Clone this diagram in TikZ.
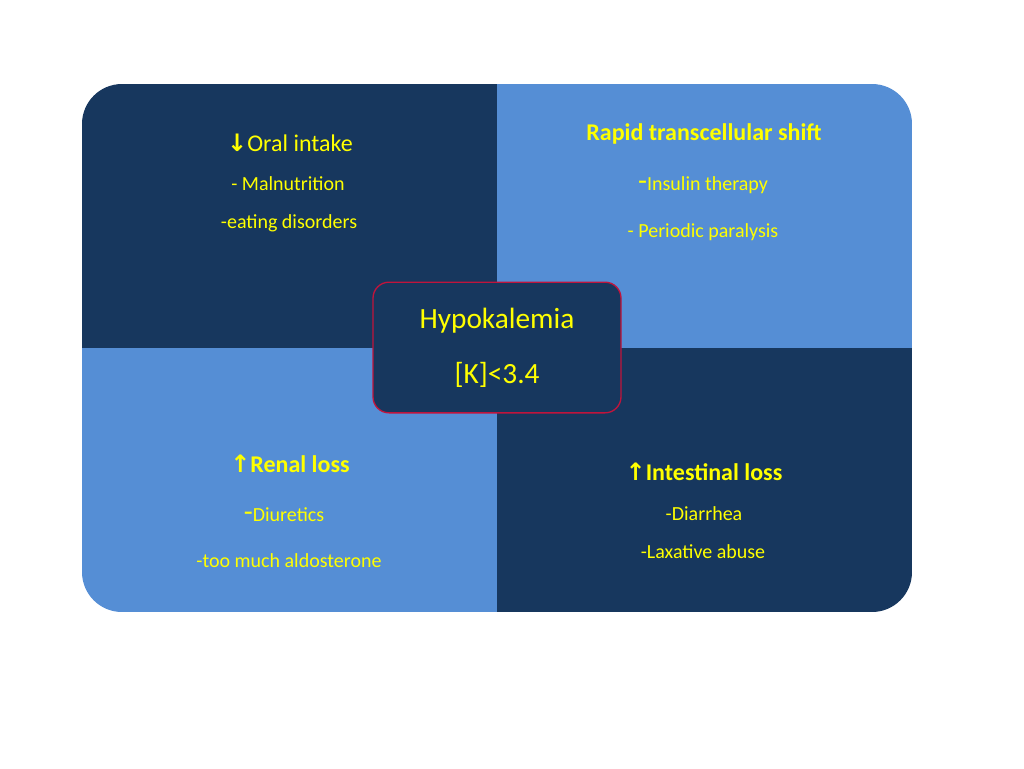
\documentclass[tikz,border=0pt]{standalone}
\usepackage{fontspec}
\setmainfont{Carlito}
\newfontfamily\symfont{DejaVu Sans}
\definecolor{darkq}{HTML}{17375E}
\definecolor{lightq}{HTML}{558ED5}
\definecolor{txtyel}{HTML}{FFFF00}
\definecolor{redline}{HTML}{C0143C}
\tikzset{
  head/.style={text=txtyel, font=\fontsize{18}{20}\selectfont, inner sep=0.75pt},
  headb/.style={head, font=\fontsize{18}{20}\selectfont\bfseries},
  item/.style={text=txtyel, font=\fontsize{15}{17}\selectfont, inner sep=0.75pt},
}
\newcommand{\dnarr}{{\symfont\bfseries ↓}}
\newcommand{\uparr}{{\symfont\bfseries ↑}}
\begin{document}
\begin{tikzpicture}[x=0.75pt,y=0.75pt,yscale=-1,xscale=1]
\useasboundingbox (0,0) rectangle (1024,768);
\fill[white] (0,0) rectangle (1024,768);

% quadrants
\begin{scope}
\clip[rounded corners=30] (82,84) rectangle (912,612);
\fill[darkq] (82,84) rectangle (497,348);
\fill[lightq] (497,84) rectangle (912,348);
\fill[lightq] (82,348) rectangle (497,612);
\fill[darkq] (497,348) rectangle (912,612);
\end{scope}

% center box
\node (hk) [draw=redline, line width=1pt, fill=darkq, rounded corners=12, minimum width=186pt, minimum height=98pt] at (497,347.5) {};
\node (hkt) [text=txtyel, font=\fontsize{22}{24}\selectfont, inner sep=0.75pt] at (497,321) {Hypokalemia};
\node (hkv) [text=txtyel, font=\fontsize{22}{24}\selectfont, inner sep=0.75pt] at (497,375) {[K]<3.4};

% top left
\node (oral) [head] at (290,143) {\dnarr Oral intake};
\node (maln) [item] at (288,184) {- Malnutrition};
\node (eat) [item] at (289,223) {-eating disorders};

% top right
\node (shift) [headb] at (704,134) {Rapid transcellular shift};
\node (ins) [item] at (703,185) {{\fontsize{22}{24}\selectfont -}Insulin therapy};
\node (per) [item] at (703,232) {- Periodic paralysis};

% bottom left
\node (renal) [headb] at (290,464) {\uparr Renal loss};
\node (diur) [item] at (284,515) {{\fontsize{22}{24}\selectfont -}Diuretics};
\node (aldo) [item] at (289,561) {-too much aldosterone};

% bottom right
\node (intes) [headb] at (704,472) {\uparr Intestinal loss};
\node (diar) [item] at (704,514) {-Diarrhea};
\node (lax) [item] at (703,552) {-Laxative abuse};
\end{tikzpicture}
\end{document}
